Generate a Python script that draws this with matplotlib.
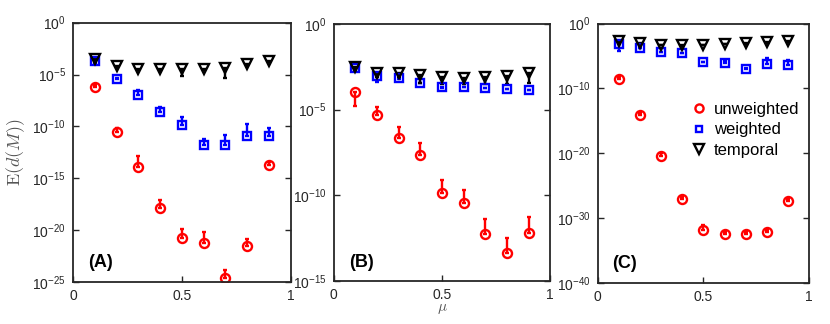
import numpy as np
import matplotlib.pyplot as plt

plt.rcParams['font.family'] = ['Liberation Sans', 'DejaVu Sans']
plt.rcParams['mathtext.fontset'] = 'cm'

mu = [0.1, 0.2, 0.3, 0.4, 0.5, 0.6, 0.7, 0.8, 0.9]

# log10 values: (mean, lower end of bar, upper end of bar)
# panel A
a_unw = [-6.2, -10.55, -13.9, -17.85, -20.8, -21.25, -24.6, -21.5, -13.7]
a_unw_lo = [-6.2, -10.55, -13.9, -17.85, -20.8, -21.25, -24.6, -21.5, -13.7]
a_unw_hi = [-6.0, -10.2, -12.9, -17.1, -19.9, -20.2, -23.9, -20.9, -13.4]
a_wei = [-3.7, -5.45, -6.95, -8.6, -9.9, -11.8, -11.8, -10.9, -10.9]
a_wei_lo = [-3.9, -5.45, -6.95, -8.6, -9.9, -11.8, -11.8, -10.9, -10.9]
a_wei_hi = [-3.5, -5.3, -6.5, -8.1, -9.1, -11.2, -10.8, -9.8, -10.2]
a_tem = [-3.5, -4.2, -4.5, -4.5, -4.45, -4.45, -4.35, -4.0, -3.7]
a_tem_lo = [-3.8, -4.4, -4.6, -4.7, -5.1, -4.6, -5.3, -4.2, -3.8]
a_tem_hi = [-3.5, -4.2, -4.5, -4.5, -4.45, -4.45, -4.35, -4.0, -3.7]

# panel B
b_unw = [-3.99, -5.33, -6.65, -7.67, -9.84, -10.43, -12.28, -13.39, -12.18]
b_unw_lo = [-4.77, -5.33, -6.65, -7.67, -9.84, -10.43, -12.28, -13.39, -12.18]
b_unw_hi = [-3.99, -4.86, -6.03, -6.93, -9.1, -9.69, -11.36, -12.49, -11.25]
b_wei = [-2.59, -3.04, -3.17, -3.42, -3.70, -3.66, -3.74, -3.79, -3.85]
b_wei_lo = [-2.7, -3.37, -3.2, -3.45, -3.72, -3.68, -3.76, -3.8, -3.87]
b_wei_hi = [-2.59, -3.04, -3.17, -3.42, -3.70, -3.66, -3.74, -3.79, -3.85]
b_tem = [-2.49, -2.84, -2.88, -3.0, -3.07, -3.13, -3.11, -3.02, -2.84]
b_tem_lo = [-2.6, -3.1, -3.1, -3.46, -3.5, -3.5, -3.5, -3.5, -3.46]
b_tem_hi = [-2.49, -2.84, -2.88, -3.0, -3.07, -3.13, -3.11, -3.02, -2.84]

# panel C
c_unw = [-8.5, -14.1, -20.4, -27.0, -31.85, -32.46, -32.46, -32.1, -27.3]
c_unw_lo = [-8.5, -14.1, -20.4, -27.0, -31.85, -32.46, -32.46, -32.1, -27.3]
c_unw_hi = [-8.2, -13.8, -20.0, -26.7, -31.0, -32.2, -32.2, -31.8, -27.0]
c_wei = [-3.13, -3.74, -4.3, -4.5, -5.9, -6.05, -6.97, -6.15, -6.4]
c_wei_lo = [-4.26, -3.74, -4.3, -4.5, -5.9, -6.05, -6.97, -6.15, -6.4]
c_wei_hi = [-3.13, -3.74, -4.3, -4.5, -5.9, -5.8, -6.8, -5.3, -5.6]
c_tem = [-2.72, -2.97, -3.23, -3.23, -3.23, -3.13, -2.97, -2.87, -2.72]
c_tem_lo = [-3.0, -3.1, -3.3, -3.4, -3.3, -3.2, -3.1, -3.0, -2.8]
c_tem_hi = [-2.72, -2.97, -3.23, -3.23, -3.23, -3.13, -2.97, -2.87, -2.72]

panels = [
    ('(A)', (-25, 0), 5, [(a_unw, a_unw_lo, a_unw_hi), (a_wei, a_wei_lo, a_wei_hi), (a_tem, a_tem_lo, a_tem_hi)]),
    ('(B)', (-15, 0), 5, [(b_unw, b_unw_lo, b_unw_hi), (b_wei, b_wei_lo, b_wei_hi), (b_tem, b_tem_lo, b_tem_hi)]),
    ('(C)', (-40, 0), 10, [(c_unw, c_unw_lo, c_unw_hi), (c_wei, c_wei_lo, c_wei_hi), (c_tem, c_tem_lo, c_tem_hi)]),
]
names = ['unweighted', 'weighted', 'temporal']
colors = ['#ff0000', '#0000ff', '#000000']
markers = ['o', 's', 'v']
msizes = [6.5, 5.5, 7.5]

positions = [
    [0.088, 0.130, 0.262, 0.800],
    [0.402, 0.133, 0.261, 0.793],
    [0.720, 0.127, 0.255, 0.800],
]

fig = plt.figure(figsize=(8.3, 3.24), dpi=100)

for k, (lab, ylim, step, series) in enumerate(panels):
    ax = fig.add_axes(positions[k])
    for s, (m, lo, hi) in enumerate(series):
        m = np.array(m)
        y = 10.0 ** m
        err = [y - 10.0 ** np.array(lo), 10.0 ** np.array(hi) - y]
        ax.errorbar(mu, y, yerr=err, fmt=markers[s], color=colors[s], mfc='none',
                    mec=colors[s], ms=msizes[s], mew=1.7, elinewidth=1.7, capsize=1.5,
                    capthick=1.7, label=names[s])
    ax.set_yscale('log')
    ax.set_xlim(0, 1)
    ax.set_ylim(10.0 ** ylim[0], 10.0 ** ylim[1])
    ticks = np.arange(ylim[0], ylim[1] + 1, step)
    ax.set_yticks(10.0 ** ticks)
    ax.set_yticklabels(['$\\mathdefault{10^{%d}}$' % t for t in ticks])
    ax.yaxis.set_minor_locator(plt.NullLocator())
    ax.set_xticks([0, 0.5, 1])
    ax.set_xticklabels(['0', '0.5', '1'])
    ax.tick_params(direction='in', top=False, right=True, length=4, width=1,
                   labelsize=10, colors='#262626', pad=5)
    for sp in ax.spines.values():
        sp.set_linewidth(1.3)
        sp.set_color('#262626')
    ax.text(0.07, 0.073, lab, transform=ax.transAxes, fontsize=13, fontweight='bold',
            ha='left', va='center')
    if k == 0:
        ax.set_ylabel(r'$\mathrm{E}(d(M))$', fontsize=13, color='#555555', labelpad=4)
    if k == 1:
        ax.set_xlabel(r'$\mu$', fontsize=11, color='#555555', labelpad=0)
    if k == 2:
        h, l = ax.get_legend_handles_labels()
        h = [hh[0] for hh in h]
        ax.legend(h, l, loc='center left', bbox_to_anchor=(0.36, 0.59), frameon=False,
                  fontsize=12, handletextpad=0.3, labelspacing=0.35, handlelength=1.2,
                  markerscale=0.9)

fig.savefig('out.png', dpi=100)
